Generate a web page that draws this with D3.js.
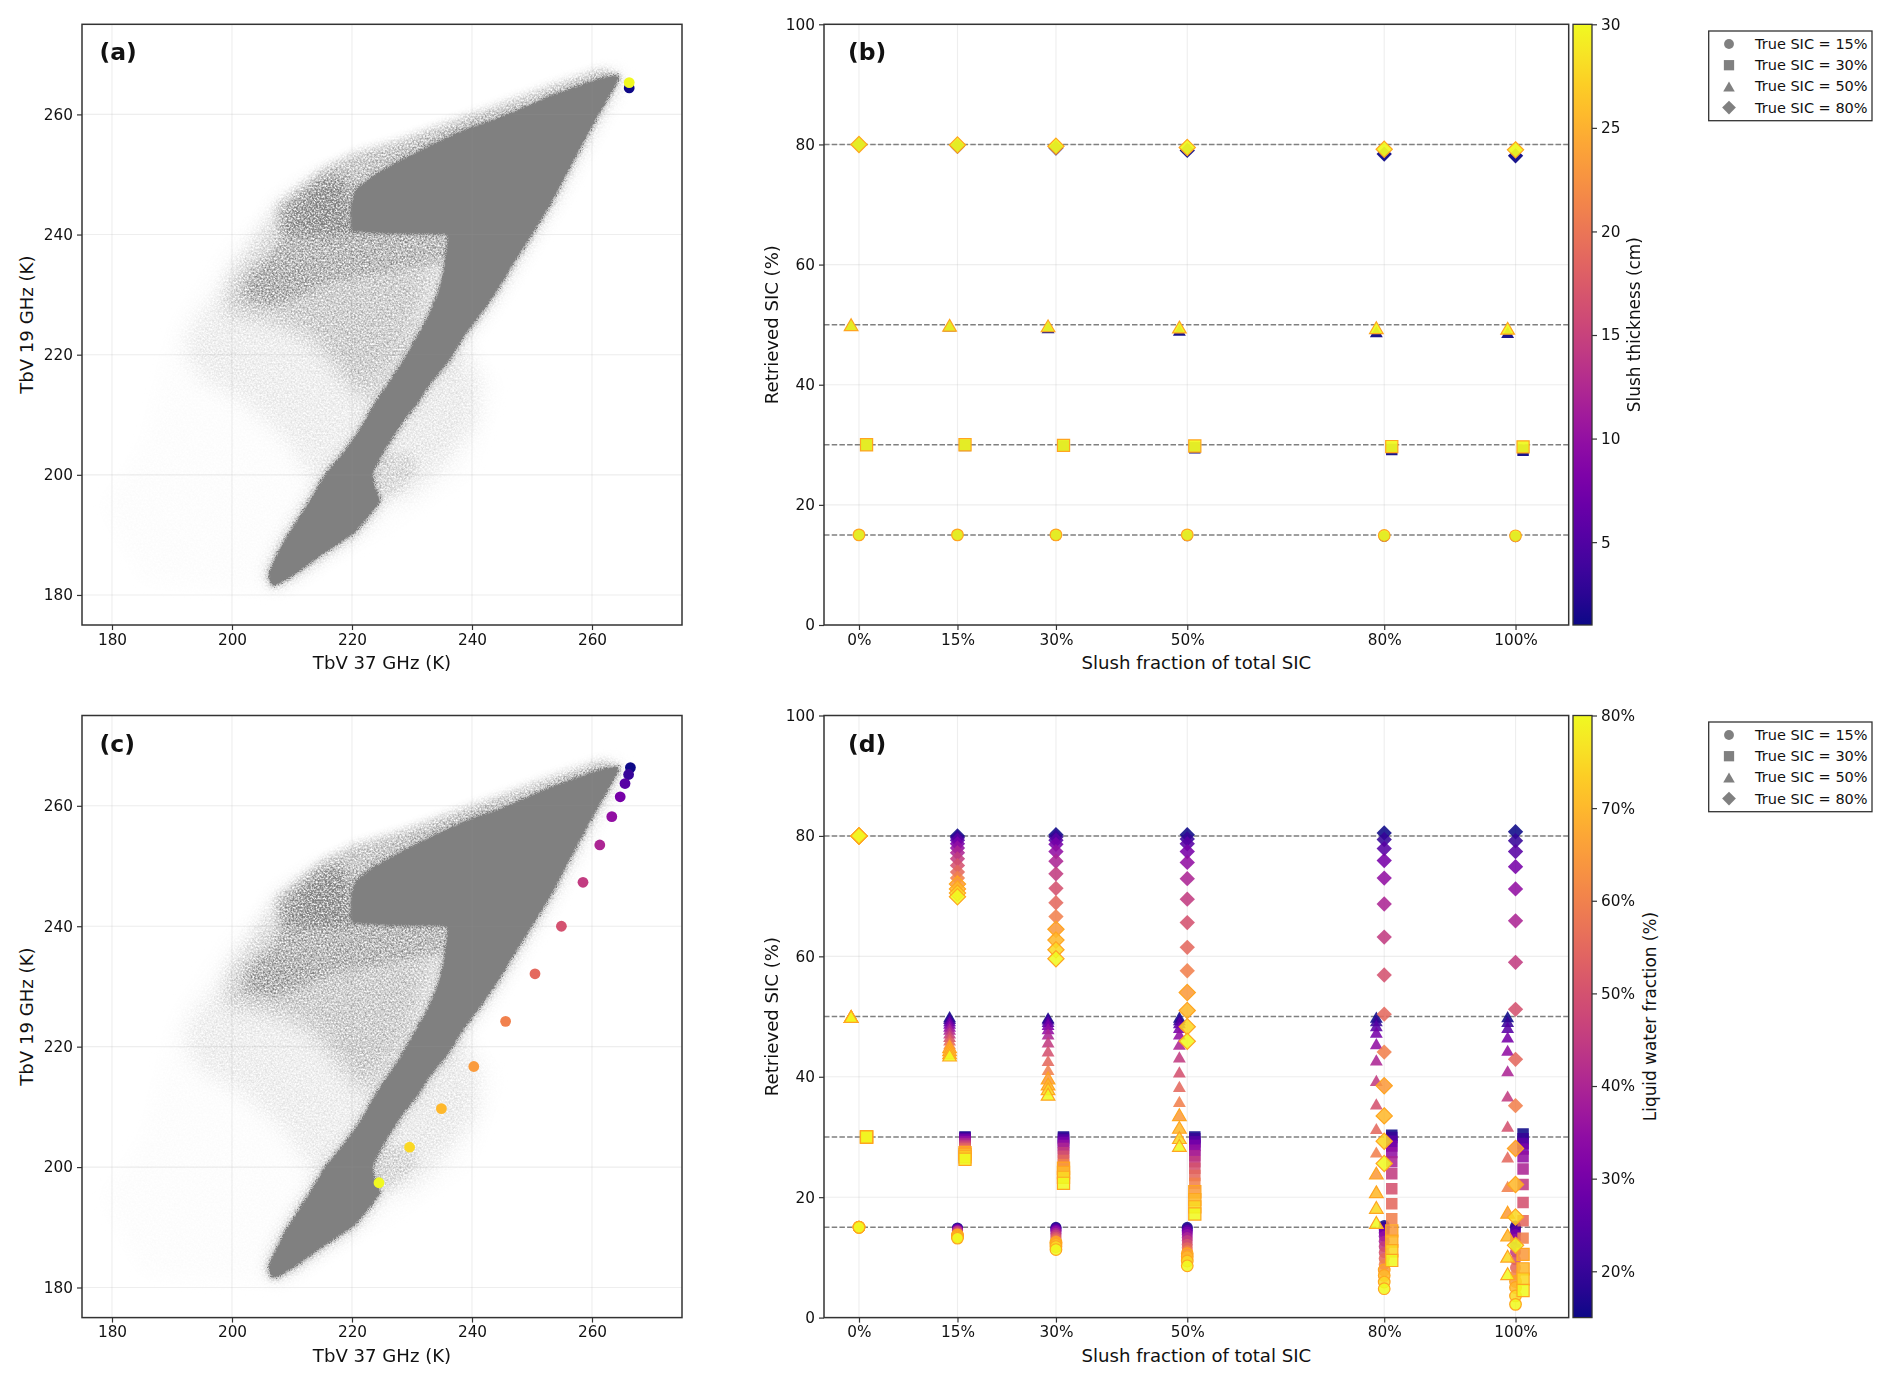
<!DOCTYPE html>
<html><head><meta charset="utf-8">
<script src="https://cdn.jsdelivr.net/npm/d3@7/dist/d3.min.js"></script>
<style>
html,body{margin:0;padding:0;background:#fff}
text{font-family:"DejaVu Sans",sans-serif;fill:#111}
</style></head><body><svg id="fig" width="1892" height="1383" xmlns="http://www.w3.org/2000/svg"></svg>
<script>
// ---------- data ----------
const tbTicks = [180,200,220,240,260];
const sicTicks = [0,20,40,60,80,100];
const slushFractions = [0,15,30,50,80,100];
const trueSIC = [15,30,50,80];
const thicknessTicks = [5,10,15,20,25,30];
const lwfTicks = [20,30,40,50,60,70,80];
const lwfValues = [15,20,25,30,35,40,45,50,55,60,65,70,75,80];
const legendLabels = ["True SIC = 15%","True SIC = 30%","True SIC = 50%","True SIC = 80%"];

// panel (a): slush thickness end members over the TB cloud
const thicknessA = [1,30];
const tb37A = [266.2,266.2];
const tb19A = [264.4,265.3];
// panel (c): liquid water fraction sweep
const tb37C = [266.4,266.1,265.5,264.7,263.3,261.3,258.5,254.9,250.5,245.6,240.3,234.9,229.6,224.5];
const tb19C = [266.35,265.2,263.7,261.5,258.2,253.5,247.3,240.0,232.1,224.2,216.7,209.7,203.3,197.4];

// panel (b): retrieved SIC, one row per true SIC, for thickness 1 cm and 30 cm
const thicknessB = [1,30];
const b15 = [[15,14.95,14.9,14.85,14.75,14.7],[15,15,15,15,14.9,14.85]];
const b30 = [[30,29.9,29.8,29.5,29.2,29.1],[30,30,29.9,29.8,29.7,29.65]];
const b50 = [[50,49.8,49.5,49.1,48.85,48.7],[50,49.9,49.8,49.6,49.5,49.4]];
const b80 = [[80,79.7,79.4,79.0,78.4,78.1],[80,79.9,79.7,79.5,79.2,79.1]];

// panel (d): retrieved SIC per slush fraction, ordered by liquid water fraction
const d15 = [
 [15,15,15,15,15,15,15,15,15,15,15,15,15,15],
 [14.9,14.8,14.7,14.6,14.5,14.4,14.3,14.1,14,13.9,13.7,13.6,13.4,13.2],
 [15,14.9,14.7,14.5,14.3,14,13.7,13.4,13.1,12.8,12.5,12.2,11.8,11.3],
 [15,14.8,14.5,14.2,13.8,13.3,12.8,12.2,11.6,11.1,10.6,10.1,9.4,8.6],
 [15.3,15,14.6,14.1,13.5,12.7,11.8,10.8,9.8,8.8,7.9,7,5.9,4.8],
 [15.2,14.9,14.4,13.8,13,12,10.9,9.6,8.3,7.1,6,5,3.6,2.2]];
const d30 = [
 [30,30,30,30,30,30,30,30,30,30,30,30,30,30],
 [30,29.9,29.7,29.5,29.2,28.9,28.6,28.3,28,27.7,27.4,27.1,26.7,26.3],
 [30,29.8,29.5,29.1,28.6,28.1,27.4,26.8,26.1,25.4,24.8,24.1,23.3,22.3],
 [30,29.7,29.2,28.6,27.8,26.9,25.9,24.8,23.6,22.3,20.9,19.6,18.4,17.2],
 [30.3,29.9,29.3,28.5,27.4,25.9,23.9,21.4,18.9,16.4,14.4,12.7,11.1,9.5],
 [30.5,29.7,28.9,28,26.7,24.7,22.1,19.1,16.1,13.2,10.5,8.1,6.4,4.5]];
const d50 = [
 [50,50,50,50,50,50,50,50,50,50,50,50,50,50],
 [50,49.7,49.3,48.9,48.4,47.9,47.3,46.7,46.1,45.5,45,44.5,44,43.6],
 [49.8,49.6,49.2,48.7,48,47.1,45.8,44.3,42.7,41.2,39.8,38.8,38,37.1],
 [49.9,49.5,49,48.2,47.1,45.4,43.3,40.8,38.4,35.9,33.7,31.6,29.9,28.6],
 [49.9,49.3,48.5,47.4,45.5,42.8,39.4,35.5,31.4,27.5,24,20.9,18.3,15.8],
 [50,49.2,48.2,46.6,44.4,41,36.8,31.8,26.7,21.8,17.5,13.7,10.2,7.3]];
const d80 = [
 [80,80,80,80,80,80,80,80,80,80,80,80,80,80],
 [80,79.7,79.3,78.7,78,77.2,76.2,75.1,74,73,72,71.2,70.5,69.9],
 [80.2,79.8,79.3,78.6,77.4,75.8,73.7,71.3,68.9,66.6,64.5,62.7,61.1,59.6],
 [80.2,79.5,78.7,77.4,75.6,72.9,69.5,65.6,61.5,57.6,54,51,48.3,45.9],
 [80.5,79.4,77.9,75.9,73,68.7,63.2,56.9,50.4,44.1,38.5,33.5,29.3,25.6],
 [80.7,79.2,77.4,74.9,71.2,65.9,59,51.2,42.9,35.2,28.1,22.1,16.7,12]];

// TB cloud outlines [TbV37, TbV19], with the point density of each zone
const cloudCore = [[206.6,181.6],[206.1,183.5],[207.3,186.1],[208.9,189.2],[210.3,191.4],[213.1,195.8],[215.8,200.3],[218.6,203.6],[221.4,207.5],[223.6,211.4],[225.8,214.7],[228.1,218.1],[230.3,221.9],[232.5,225.8],[234.2,229.7],[235.3,233.6],[236.1,239.2],[236,240.2],[226,240.3],[219.9,240.7],[219.9,244.6],[220.7,247.4],[223.5,249.6],[227.9,252.1],[233.5,254.9],[239,257.4],[244.5,259.3],[253.1,263],[260.8,265.7],[264.2,266.6],[264.6,266.2],[260.8,259.6],[256.9,252.4],[253.1,245.2],[249.4,239.2],[246.9,235.3],[244.2,230.8],[241.9,227.5],[238.6,223.1],[235.8,218.6],[233,215.3],[230.8,211.9],[228.6,209.2],[226.4,205.8],[224.7,203.1],[223.3,200.3],[223.6,198.1],[224.7,195.8],[223.1,193.6],[220.3,190.3],[215,186.8],[210.4,183.5],[207.3,181.6]];
const cloudTopFringe = [[207.4,244.6],[210.2,246.8],[215.7,251.3],[220.2,253.5],[227.9,255.7],[233.5,257.7],[242.3,260.7],[253,264.5],[262,267.5],[264,266],[250,262],[240,257],[228,251],[220,245],[219,240],[208,240]];
const cloudTopDark = [[219.5,249],[215,248],[212.7,245.2],[211.5,240.8],[219.5,240.1]];
const cloudArm = [[218.8,250.2],[214.2,248.8],[210.4,245.2],[208.9,240.8],[206.6,236.5],[202.7,232.9],[202,229.3],[206.6,228.2],[211.9,230],[216.5,232.2],[224.9,233.5],[232.5,235],[236,235.5],[236,241.6],[218.8,241.6]];
const cloudMid = [[216.5,250.6],[208.1,245.2],[203.9,238.7],[199.7,232.9],[198.9,227.1],[206.6,225.7],[213.4,222.8],[218,217],[222.6,212],[229.5,221.4],[234.8,234.3],[236,240.1],[222.6,240.8]];
const cloudLow = [[199.7,231.4],[194.4,226.4],[192.1,221.4],[194.4,216.3],[201.2,212.7],[208.9,206.2],[213.4,199],[216.5,201.5],[222.6,210.6],[229.5,221.4],[234,234.3],[215,232.9],[204.3,235.8]];
const cloudRight = [[238.6,221],[241,215.8],[240.5,208.6],[235,201.5],[230.3,197],[224.7,195.3],[223.3,200.3],[226.4,205.8],[230.8,211.9],[235.8,218.6]];
const cloudNotch = [[223.6,203.6],[230.3,203.6],[230.8,200.3],[227.5,196.9],[224.7,195.8],[223.3,198.6]];
const cloudFaint = [[185,205],[178,195],[185,182],[205,180],[225,190],[240,200],[245,215],[240,222],[215,245],[200,240],[190,225]];
const cloudLayers = [
 {pts:cloudFaint,density:0.02,blur:"b3"},
 {pts:cloudLow,density:0.12,blur:"b3"},
 {pts:cloudRight,density:0.14,blur:"b3"},
 {pts:cloudMid,density:0.3,blur:"b3"},
 {pts:cloudNotch,density:0.16,blur:"b2"},
 {pts:cloudArm,density:0.36,blur:"b2"},
 {pts:cloudTopDark,density:0.22,blur:"b2"},
 {pts:cloudTopFringe,density:0.42,blur:"b2"},
 {pts:cloudCore,density:0.32,blur:"b3"},
 {pts:cloudCore,density:0.5,blur:"b2"},
 {pts:cloudCore,density:0.85,blur:"b1"}];

// ---------- layout ----------
const W=1892,H=1383;
const leftBox={l:82,r:682};
const rightBox={l:824,r:1568.7};
const rowBox=[{t:24.3,b:625},{t:715.5,b:1317.6}];
const cbBox={l:1573,r:1592};
const GREY="#808080", FRAME="#333";
const svg=d3.select("#fig");
const defs=svg.append("defs");
[["b1",2.5],["b2",5],["b3",10]].forEach(([id,s])=>{
  defs.append("filter").attr("id",id).attr("x","-30%").attr("y","-30%").attr("width","160%").attr("height","160%")
   .append("feGaussianBlur").attr("stdDeviation",s);
});
function noiseFilter(id,gain,bias){
  const f=defs.append("filter").attr("id",id).attr("filterUnits","userSpaceOnUse")
    .attr("x",0).attr("y",0).attr("width",720).attr("height",H).attr("color-interpolation-filters","sRGB");
  f.append("feTurbulence").attr("type","fractalNoise").attr("baseFrequency",0.55).attr("numOctaves",2).attr("seed",7).attr("result","t");
  f.append("feColorMatrix").attr("in","t").attr("type","matrix").attr("values",`0 0 0 0 0  0 0 0 0 0  0 0 0 0 0  ${gain} 0 0 0 ${bias}`).attr("result","na");
  return f;
}
const st=noiseFilter("grain",1.7,-0.35);
st.append("feComposite").attr("in","SourceAlpha").attr("in2","na").attr("operator","arithmetic")
  .attr("k1",1.8).attr("k2",0).attr("k3",0).attr("k4",0).attr("result","m");
st.append("feFlood").attr("flood-color",GREY).attr("result","f");
st.append("feComposite").attr("in","f").attr("in2","m").attr("operator","in").attr("result","g");
st.append("feGaussianBlur").attr("in","g").attr("stdDeviation",0.6);
const ce=noiseFilter("coreEdge",2.2,-0.6);
ce.append("feGaussianBlur").attr("in","SourceAlpha").attr("stdDeviation",2).attr("result","bl");
ce.append("feComposite").attr("in","bl").attr("in2","na").attr("operator","arithmetic")
  .attr("k1",0).attr("k2",6).attr("k3",-5).attr("k4",0).attr("result","m");
ce.append("feFlood").attr("flood-color",GREY).attr("result","f");
ce.append("feComposite").attr("in","f").attr("in2","m").attr("operator","in").attr("result","g");
ce.append("feGaussianBlur").attr("in","g").attr("stdDeviation",0.5);

const plasma=d3.interpolatePlasma;
function axisStyle(g){
  g.selectAll("path.domain").remove();
  g.selectAll("line").attr("stroke",FRAME).attr("stroke-width",1.2);
  g.selectAll("text").attr("font-size",15.3).attr("font-family",'"DejaVu Sans",sans-serif').attr("fill","#111");
}
function gridLines(g,x,y,box,xt,yt,op){
  const gr=g.append("g").attr("stroke","#b0b0b0").attr("stroke-opacity",op).attr("stroke-width",1.1);
  gr.selectAll("line.v").data(xt).join("line").attr("class","v").attr("x1",d=>x(d)).attr("x2",d=>x(d)).attr("y1",box.t).attr("y2",box.b);
  gr.selectAll("line.h").data(yt).join("line").attr("class","h").attr("y1",d=>y(d)).attr("y2",d=>y(d)).attr("x1",box.l).attr("x2",box.r);
}
function gridAndAxes(g,x,y,box,xt,yt,xfmt,xlab,ylab,ylabX,letter,letterDx,gridOp){
  const clipId="clip"+letter.replace(/\W/g,"");
  defs.append("clipPath").attr("id",clipId).append("rect")
    .attr("x",box.l).attr("y",box.t).attr("width",box.r-box.l).attr("height",box.b-box.t);
  gridLines(g,x,y,box,xt,yt,gridOp);
  const clipped=g.append("g").attr("clip-path",`url(#${clipId})`);
  g.append("g").attr("transform",`translate(0,${box.b})`)
    .call(d3.axisBottom(x).tickValues(xt).tickFormat(xfmt).tickSize(5).tickPadding(4)).call(axisStyle);
  g.append("g").attr("transform",`translate(${box.l},0)`)
    .call(d3.axisLeft(y).tickValues(yt).tickFormat(d3.format("d")).tickSize(5).tickPadding(4)).call(axisStyle);
  g.append("text").attr("x",(box.l+box.r)/2).attr("y",box.b+44).attr("text-anchor","middle").attr("font-size",18.1).text(xlab);
  g.append("text").attr("transform",`translate(${ylabX},${(box.t+box.b)/2}) rotate(-90)`).attr("text-anchor","middle").attr("font-size",18.1).text(ylab);
  g.append("text").attr("x",box.l+letterDx).attr("y",box.t+36).attr("font-size",23.5).attr("font-weight","bold").text(letter);
  return clipped;
}
function frame(g,box){
  g.append("rect").attr("x",box.l).attr("y",box.t).attr("width",box.r-box.l).attr("height",box.b-box.t)
   .attr("fill","none").attr("stroke",FRAME).attr("stroke-width",1.5);
}
function drawCloud(layer,x,y){
  const line=d3.line().x(d=>x(d[0])).y(d=>y(d[1])).curve(d3.curveLinearClosed);
  const sp=layer.append("g").attr("filter","url(#grain)");
  sp.selectAll("path").data(cloudLayers).join("path")
    .attr("d",d=>line(d.pts)).attr("fill","#000").attr("fill-opacity",d=>d.density).attr("filter",d=>`url(#${d.blur})`);
  layer.append("path").attr("d",line(cloudCore)).attr("fill",GREY).attr("filter","url(#coreEdge)");
}
function tbPanel(box,letter,t37,t19,cvals,cdom){
  const x=d3.scaleLinear().domain([175,275]).range([box.l,box.r]);
  const y=d3.scaleLinear().domain([175,275]).range([box.b,box.t]);
  const g=svg.append("g");
  const c=gridAndAxes(g,x,y,box,tbTicks,tbTicks,d3.format("d"),"TbV 37 GHz (K)","TbV 19 GHz (K)",33,letter,17.5,0.14);
  drawCloud(c,x,y);
  gridLines(c,x,y,box,tbTicks,tbTicks,0.08);
  const col=d3.scaleLinear().domain(cdom).range([0,1]);
  c.selectAll("circle").data(cvals).join("circle")
    .attr("cx",(d,i)=>x(t37[i])).attr("cy",(d,i)=>y(t19[i])).attr("r",5.4)
    .attr("fill",d=>plasma(col(d)));
  frame(g,box);
}
const markerTypes=[d3.symbolCircle,d3.symbolSquare,d3.symbolTriangle,d3.symbolDiamond2];
const markerArea=[95,132,72,150];
const xOffset=[0,1.15,-1.2,0];
function symbolPath(i,scale=1){return d3.symbol().type(markerTypes[i]).size(markerArea[i]*scale)();}
function triShift(i,scale=1){ if(i!==2) return 0; const h=Math.sqrt(markerArea[2]*scale*Math.sqrt(3)); return h/6; }
function sicPanel(box,letter,series,cvals,cdom,edgeFrom,opacity){
  const x=d3.scaleLinear().domain([-5.33,108.1]).range([box.l,box.r]);
  const y=d3.scaleLinear().domain([0,100]).range([box.b,box.t]);
  const g=svg.append("g");
  const c=gridAndAxes(g,x,y,box,slushFractions,sicTicks,d=>d+"%","Slush fraction of total SIC","Retrieved SIC (%)",778,letter,24,0.22);
  c.selectAll("line.ref").data(trueSIC).join("line").attr("class","ref")
    .attr("x1",box.l).attr("x2",box.r).attr("y1",d=>y(d)).attr("y2",d=>y(d))
    .attr("stroke",GREY).attr("stroke-width",1.5).attr("stroke-dasharray","5.5,2.2");
  const col=d3.scaleLinear().domain(cdom).range([0,1]);
  series.forEach((rows,si)=>{
    const pts=[];
    cvals.forEach((v,k)=>{ slushFractions.forEach((f,fi)=>{
      const ret=rows.length===cvals.length?rows[k][fi]:rows[fi][k];
      pts.push({f,v,ret});
    });});
    c.append("g").selectAll("path").data(pts).join("path")
      .attr("d",d=>symbolPath(si,d.v>=edgeFrom?1.12:1))
      .attr("transform",d=>`translate(${x(d.f+xOffset[si])},${y(d.ret)+triShift(si,d.v>=edgeFrom?1.12:1)})`)
      .attr("fill",d=>plasma(col(d.v))).attr("fill-opacity",opacity)
      .attr("stroke",d=>d.v>=edgeFrom?"#ffa520":"none").attr("stroke-width",1.2);
  });
  frame(g,box);
}
function colorbar(id,box,dom,ticks,fmt,label,labX){
  const grad=defs.append("linearGradient").attr("id",id).attr("x1",0).attr("x2",0).attr("y1",1).attr("y2",0);
  d3.range(0,1.0001,0.05).forEach(t=>grad.append("stop").attr("offset",t).attr("stop-color",plasma(t)));
  const y=d3.scaleLinear().domain(dom).range([box.b,box.t]);
  const g=svg.append("g");
  g.append("rect").attr("x",cbBox.l).attr("y",box.t).attr("width",cbBox.r-cbBox.l).attr("height",box.b-box.t)
   .attr("fill",`url(#${id})`).attr("stroke",FRAME).attr("stroke-width",1.3);
  g.append("g").attr("transform",`translate(${cbBox.r},0)`)
   .call(d3.axisRight(y).tickValues(ticks).tickFormat(fmt).tickSize(5).tickPadding(4)).call(axisStyle);
  g.append("text").attr("transform",`translate(${labX},${(box.t+box.b)/2}) rotate(-90)`).attr("text-anchor","middle").attr("font-size",16.9).text(label);
}
function legend(top){
  const g=svg.append("g");
  g.append("rect").attr("x",1708.7).attr("y",top).attr("width",163.3).attr("height",89.7)
    .attr("fill","#fff").attr("stroke",FRAME).attr("stroke-width",1.3);
  legendLabels.forEach((t,i)=>{
    const yy=top+13+i*21.2;
    g.append("path").attr("d",symbolPath(i,0.8)).attr("transform",`translate(1729,${yy+triShift(i,0.8)})`).attr("fill",GREY);
    g.append("text").attr("x",1755).attr("y",yy+5).attr("font-size",14.5).text(t);
  });
}

tbPanel({...leftBox,...rowBox[0]},"(a)",tb37A,tb19A,thicknessA,[1,30]);
sicPanel({...rightBox,...rowBox[0]},"(b)",[b15,b30,b50,b80],thicknessB,[1,30],30,0.95);
tbPanel({...leftBox,...rowBox[1]},"(c)",tb37C,tb19C,lwfValues,[15,80]);
sicPanel({...rightBox,...rowBox[1]},"(d)",[d15,d30,d50,d80],lwfValues,[15,80],65,0.88);
colorbar("cbTop",rowBox[0],[1,30],thicknessTicks,d3.format("d"),"Slush thickness (cm)",1640);
colorbar("cbBot",rowBox[1],[15,80],lwfTicks,d=>d+"%","Liquid water fraction (%)",1656);
legend(31);
legend(722);
</script></body></html>
